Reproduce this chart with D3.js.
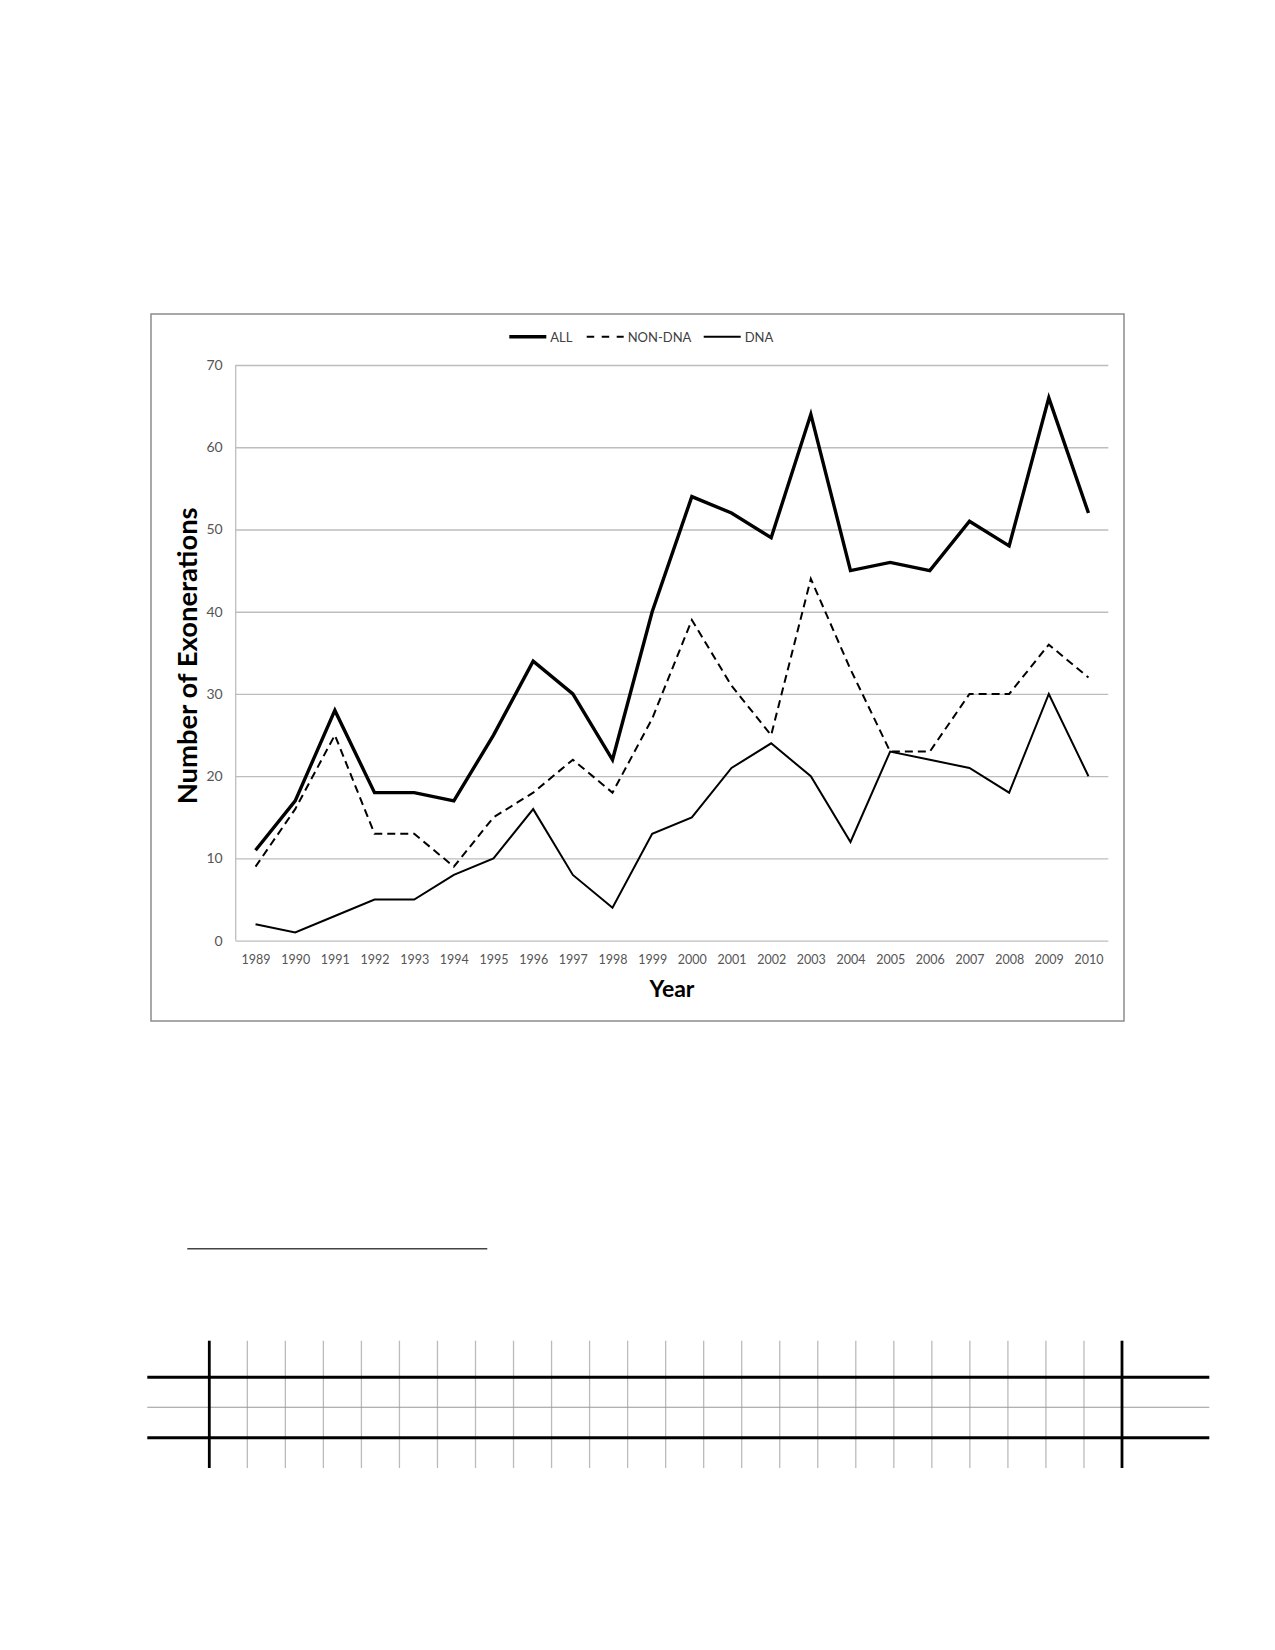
<!DOCTYPE html>
<html>
<head>
<meta charset="utf-8">
<script src="https://d3js.org/d3.v7.min.js"></script>
<style>
    body { margin: 0; background: #fff; }
    svg { display: block; }
    .tick text { font-family: Lato, "Open Sans", sans-serif; fill: #555; }
</style>
</head>
<body>
<div id="page"></div>
<script>
// chart values
var years = ["1989", "1990", "1991", "1992", "1993", "1994", "1995", "1996", "1997", "1998", "1999",
             "2000", "2001", "2002", "2003", "2004", "2005", "2006", "2007", "2008", "2009", "2010"];
var allValues = [11, 17, 28, 18, 18, 17, 25, 34, 30, 22, 40, 54, 52, 49, 64, 45, 46, 45, 51, 48, 66, 52];
var nonDnaValues = [9, 16, 25, 13, 13, 9, 15, 18, 22, 18, 27, 39, 31, 25, 44, 33, 23, 23, 30, 30, 36, 32];
var dnaValues = [2, 1, 3, 5, 5, 8, 10, 16, 8, 4, 13, 15, 21, 24, 20, 12, 23, 22, 21, 18, 30, 20];
var yTicks = [0, 10, 20, 30, 40, 50, 60, 70];
var seriesNames = ["ALL", "NON-DNA", "DNA"];
// empty table at the bottom of the page: 24 blank columns
var tableColumns = d3.range(24);

var width = 1275, height = 1650;
var svg = d3.select("#page").append("svg")
    .attr("width", width)
    .attr("height", height);

svg.append("rect")
    .attr("width", width)
    .attr("height", height)
    .attr("fill", "#fff");

// chart frame
svg.append("rect")
    .attr("x", 151)
    .attr("y", 314)
    .attr("width", 973)
    .attr("height", 707)
    .attr("fill", "none")
    .attr("stroke", "#8c8c8c")
    .attr("stroke-width", 1.5);

var plot = {left: 235.7, right: 1108.3, top: 365, bottom: 940.7};

var x = d3.scalePoint()
    .domain(years)
    .range([plot.left, plot.right])
    .padding(0.5);

var y = d3.scaleLinear()
    .domain([0, 70])
    .range([plot.bottom, plot.top]);

// gridlines + y labels
var yAxis = svg.append("g")
    .attr("class", "yAxis")
    .attr("transform", "translate(" + plot.left + ",0)")
    .call(d3.axisLeft(y).tickValues(yTicks).tickSize(-(plot.right - plot.left)).tickPadding(13));
yAxis.select(".domain").remove();
yAxis.selectAll(".tick line")
    .attr("stroke", "#bdbdbd")
    .attr("stroke-width", 1.3);
yAxis.selectAll(".tick text")
    .attr("font-size", 14);

// y axis line
svg.append("line")
    .attr("x1", plot.left)
    .attr("x2", plot.left)
    .attr("y1", plot.top)
    .attr("y2", plot.bottom)
    .attr("stroke", "#bdbdbd")
    .attr("stroke-width", 1.3);

var xAxis = svg.append("g")
    .attr("class", "xAxis")
    .attr("transform", "translate(0," + plot.bottom + ")")
    .call(d3.axisBottom(x).tickSize(0).tickPadding(13));
xAxis.select(".domain").remove();
xAxis.selectAll(".tick text")
    .attr("font-size", 14)
    .attr("textLength", 29)
    .attr("lengthAdjust", "spacingAndGlyphs");

// axis titles
svg.append("text")
    .attr("x", (plot.left + plot.right) / 2)
    .attr("y", 997)
    .attr("text-anchor", "middle")
    .attr("font-family", "Lato, 'Open Sans', sans-serif")
    .attr("font-weight", "bold")
    .attr("font-size", 23)
    .attr("fill", "#000")
    .text("Year");

svg.append("text")
    .attr("transform", "translate(197," + ((plot.top + plot.bottom) / 2 + 3) + ") rotate(-90)")
    .attr("text-anchor", "middle")
    .attr("font-family", "Lato, 'Open Sans', sans-serif")
    .attr("font-weight", "bold")
    .attr("font-size", 26)
    .attr("textLength", 297)
    .attr("lengthAdjust", "spacingAndGlyphs")
    .attr("fill", "#000")
    .text("Number of Exonerations");

// series
var styles = {
    "ALL": {width: 3.4, dash: null, legendDash: null},
    "NON-DNA": {width: 2, dash: "8,5", legendDash: "7.5,7.5"},
    "DNA": {width: 2, dash: null, legendDash: null}
};
var seriesData = [allValues, nonDnaValues, dnaValues];

var line = d3.line()
    .x(function (d, i) { return x(years[i]); })
    .y(function (d) { return y(d); });

for (var i = 0; i < seriesNames.length; i++) {
    svg.append("path")
        .datum(seriesData[i])
        .attr("d", line)
        .attr("fill", "none")
        .attr("stroke", "#000")
        .attr("stroke-width", styles[seriesNames[i]].width)
        .attr("stroke-dasharray", styles[seriesNames[i]].dash)
        .attr("stroke-linejoin", "miter");
}

// legend
var legendX = [509.3, 586.7, 703.7];
var legend = svg.append("g").attr("class", "legend");
for (var j = 0; j < seriesNames.length; j++) {
    var s = styles[seriesNames[j]];
    legend.append("line")
        .attr("x1", legendX[j])
        .attr("x2", legendX[j] + 37)
        .attr("y1", 336.7)
        .attr("y2", 336.7)
        .attr("stroke", "#000")
        .attr("stroke-width", s.width)
        .attr("stroke-dasharray", s.legendDash);
    legend.append("text")
        .attr("x", legendX[j] + 41)
        .attr("y", 341.5)
        .attr("font-family", "Lato, 'Open Sans', sans-serif")
        .attr("font-size", 13)
        .attr("fill", "#404040")
        .text(seriesNames[j]);
}

// footnote rule
svg.append("line")
    .attr("x1", 187.3)
    .attr("x2", 487.3)
    .attr("y1", 1248.7)
    .attr("y2", 1248.7)
    .attr("stroke", "#444")
    .attr("stroke-width", 1.4);

// blank table at the bottom
var col = d3.scaleBand()
    .domain(tableColumns)
    .range([209.3, 1122]);

var table = svg.append("g").attr("class", "table");
table.selectAll("line.col")
    .data(tableColumns.slice(1))
    .enter().append("line")
    .attr("class", "col")
    .attr("x1", function (d) { return col(d); })
    .attr("x2", function (d) { return col(d); })
    .attr("y1", 1340.7)
    .attr("y2", 1468)
    .attr("stroke", "#bbb")
    .attr("stroke-width", 1.3);

table.append("line")
    .attr("x1", 147.3).attr("x2", 1209.3)
    .attr("y1", 1407.3).attr("y2", 1407.3)
    .attr("stroke", "#999")
    .attr("stroke-width", 1.1);

[1377.3, 1437.7].forEach(function (yy) {
    table.append("line")
        .attr("x1", 147.3).attr("x2", 1209.3)
        .attr("y1", yy).attr("y2", yy)
        .attr("stroke", "#000")
        .attr("stroke-width", 3);
});

[209.3, 1122].forEach(function (xx) {
    table.append("line")
        .attr("x1", xx).attr("x2", xx)
        .attr("y1", 1340.7).attr("y2", 1468)
        .attr("stroke", "#000")
        .attr("stroke-width", 2.8);
});
</script>
</body>
</html>
